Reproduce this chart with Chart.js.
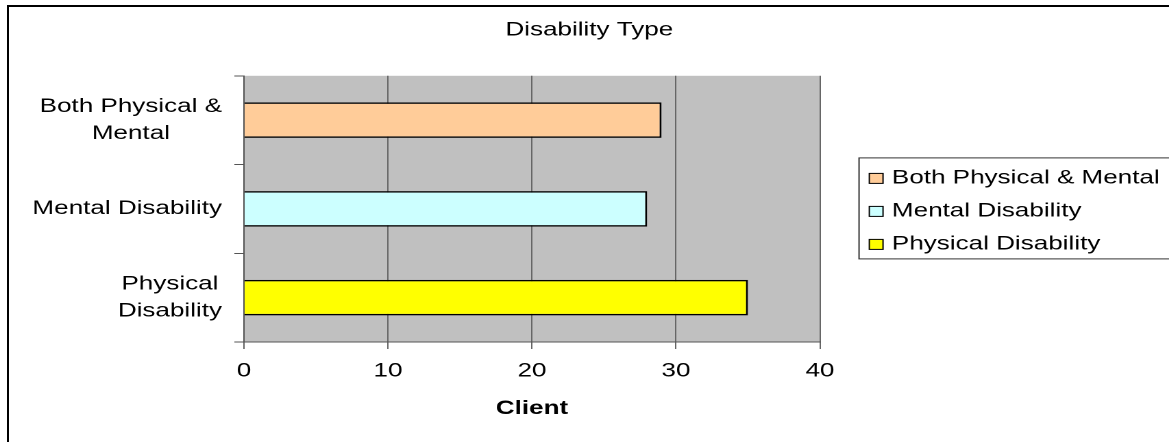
<!DOCTYPE html>
<html>
<head>
<meta charset="utf-8">
<script src="https://cdn.jsdelivr.net/npm/chart.js@4/dist/chart.umd.min.js"></script>
<style>
  html, body { margin: 0; padding: 0; background: #fff; overflow: hidden; }
  #frame { position: absolute; left: 7px; top: 5px; width: 1300px; height: 600px;
           border-left: 2px solid #000; border-top: 2px solid #000; }
  /* the source picture is stretched sideways, so the chart is too */
  #wrap { position: absolute; left: 0; top: 0; width: 860px; height: 442px;
          transform: scaleX(1.3705); transform-origin: 0 0; }
</style>
</head>
<body>
<div id="frame"></div>
<div id="wrap"><canvas id="barChart"></canvas></div>
<script>
// The data represented
const categories = ["Both Physical & Mental", "Mental Disability", "Physical Disability"];
const tickLines = [["Both Physical &", "Mental"], ["Mental Disability"], ["Physical", "Disability"]];
const clients = [29, 28, 35];
const barColors = ["#FFCC99", "#CCFFFF", "#FFFF00"];
const xMin = 0, xMax = 40, xStep = 10;

const FONT = '"Liberation Sans", Arial, sans-serif';
Chart.defaults.font.family = FONT;
Chart.defaults.color = "#000";

// gray plot area behind the bars
const plotBackground = {
  id: "plotBackground",
  beforeDraw(chart) {
    const { ctx, chartArea: a } = chart;
    ctx.save();
    ctx.fillStyle = "#C0C0C0";
    ctx.fillRect(a.left, a.top, a.right - a.left, a.bottom - a.top);
    ctx.restore();
  },
};

// category labels, each block centred on itself and pushed to the right
const yLabels = {
  id: "yLabels",
  afterDraw(chart) {
    const s = chart.scales.y;
    const ctx = chart.ctx;
    ctx.save();
    ctx.font = "19px " + FONT;
    ctx.fillStyle = "#000";
    ctx.textAlign = "center";
    ctx.textBaseline = "middle";
    const right = s.right - 16;
    tickLines.forEach((lines, i) => {
      const w = Math.max(...lines.map((t) => ctx.measureText(t).width));
      const cy = s.getPixelForValue(i);
      lines.forEach((t, k) => {
        ctx.fillText(t, right - w / 2, cy + (k - (lines.length - 1) / 2) * 27);
      });
    });
    ctx.restore();
  },
};

// legend to the right of the plot, its box open past the edge like the source
const sideLegend = {
  id: "sideLegend",
  afterDraw(chart) {
    const { ctx, chartArea: a } = chart;
    const mid = (a.top + a.bottom) / 2 + 2.5;
    const step = 33;
    const x0 = a.right + 28.5;
    ctx.save();
    ctx.strokeStyle = "#333";
    ctx.lineWidth = 1;
    ctx.strokeRect(x0, mid - 53.5, chart.width, 101);
    ctx.font = "19px " + FONT;
    ctx.textBaseline = "middle";
    ctx.textAlign = "left";
    categories.forEach((c, i) => {
      const cy = mid + (i - (categories.length - 1) / 2) * step;
      ctx.fillStyle = barColors[i];
      ctx.fillRect(x0 + 7.5, cy - 5, 10, 10);
      ctx.strokeStyle = "#000";
      ctx.strokeRect(x0 + 7.5, cy - 5, 10, 10);
      ctx.fillStyle = "#000";
      ctx.fillText(c, x0 + 24, cy);
    });
    ctx.restore();
  },
};

const config = {
  type: "bar",
  data: {
    labels: categories,
    datasets: [
      {
        label: "Client",
        data: clients,
        backgroundColor: barColors,
        borderColor: "#000",
        borderWidth: 1.5,
        barPercentage: 0.4,
        categoryPercentage: 1,
        xAxisID: "x",
        yAxisID: "y",
      },
    ],
  },
  options: {
    indexAxis: "y",
    responsive: true,
    maintainAspectRatio: false,
    animation: false,
    devicePixelRatio: 2,
    layout: { padding: { top: 5, left: 0, right: 0, bottom: 0 } },
    scales: {
      x: {
        min: xMin,
        max: xMax,
        ticks: { stepSize: xStep, color: "#000", font: { size: 19 }, padding: 11 },
        grid: { color: "#666", tickLength: 7 },
        border: { color: "#555" },
        title: {
          display: true,
          text: "Client",
          color: "#000",
          font: { size: 19, weight: "bold" },
          padding: { top: 0, bottom: 22 },
        },
        afterFit: (s) => { s.height = 100; },
      },
      y: {
        type: "category",
        ticks: { display: false },
        grid: { display: true, drawOnChartArea: false, color: "#555", tickLength: 7, offset: true },
        border: { color: "#555" },
        afterFit: (s) => { s.width = 178; },
      },
      // empty strip on the right that holds the legend
      side: {
        type: "category",
        axis: "y",
        position: "right",
        grid: { display: false },
        ticks: { display: false },
        border: { display: false },
        afterFit: (s) => { s.width = 261.7; },
      },
    },
    plugins: {
      tooltip: { enabled: false },
      legend: { display: false },
      title: {
        display: true,
        text: "Disability Type",
        color: "#000",
        font: { size: 19, weight: "normal" },
        padding: { top: 14, bottom: 34 },
      },
    },
  },
  plugins: [plotBackground, yLabels, sideLegend],
};

const barChart = new Chart(document.querySelector("#barChart"), config);
</script>
</body>
</html>
